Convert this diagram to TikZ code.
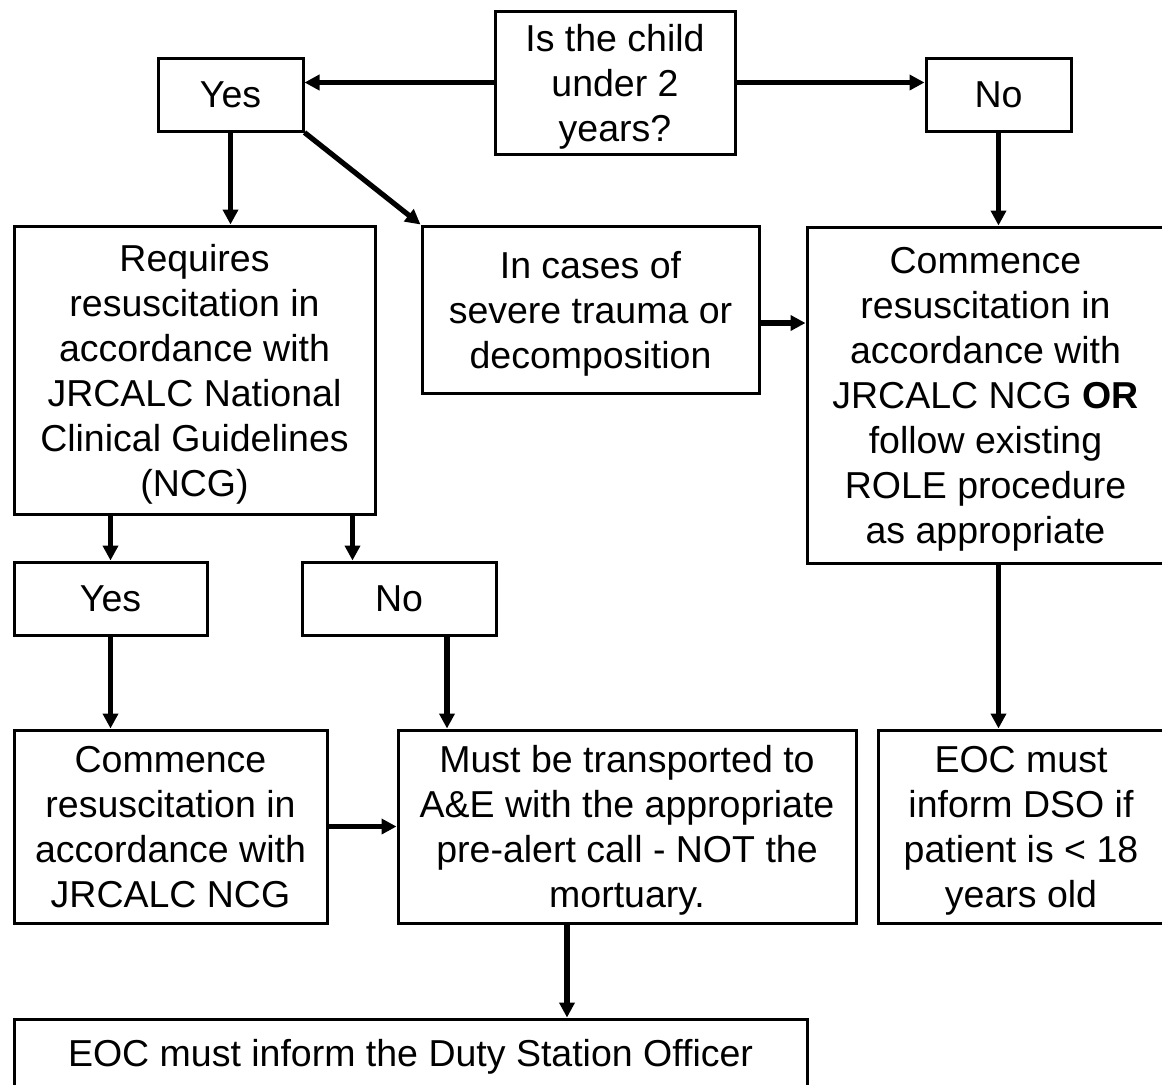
\documentclass[tikz,border=0pt]{standalone}
\usepackage{fontspec}
\setmainfont{Liberation Sans}
\usepackage{tikz}
\usetikzlibrary{positioning, calc, arrows.meta}
\tikzset{
    base/.style={
        font=\fontsize{18.75}{22.5}\selectfont,
        align=center
    },
    box/.style={
        base,
        rectangle,
        draw=black,
        line width=1.5pt,
        fill=white,
        inner sep=0pt,
        text depth=0pt
    },
    flow/.style={
        -{Triangle[length=7.5pt, width=7.5pt]},
        line width=2.6pt,
        color=black
    }
}

\begin{document}
\begin{tikzpicture}[x=0.5pt, y=-0.5pt]
    \useasboundingbox[fill=white] (0,0) rectangle (1162,1084);

    % Question and first answers
    \node[box, minimum width=120pt, minimum height=71.5pt] (q) at (615,82.5) {Is the child\\under 2\\years?};
    \node[box, minimum width=72.5pt, minimum height=36.5pt] (yes1) at (230.5,94.5) {Yes};
    \node[box, minimum width=72.5pt, minimum height=36.5pt] (no1) at (998.5,94.5) {No};

    % Second row
    \node[box, minimum width=180.5pt, minimum height=144pt] (req) at (194.5,370) {Requires\\resuscitation in\\accordance with\\JRCALC National\\Clinical Guidelines\\(NCG)};
    \node[box, minimum width=168.5pt, minimum height=83.5pt] (trauma) at (590.5,309.5) {In cases of\\severe trauma or\\decomposition};
    \node[box, minimum width=178.5pt, minimum height=168pt] (resus) at (985.5,395) {Commence\\resuscitation in\\accordance with\\JRCALC NCG \textbf{OR}\\follow existing\\ROLE procedure\\as appropriate};

    % Answers below
    \node[box, minimum width=96.5pt, minimum height=36.5pt] (yes2) at (110.5,598.5) {Yes};
    \node[box, minimum width=97pt, minimum height=36.5pt] (no2) at (399,598.5) {No};

    % Outcomes
    \node[box, minimum width=156.5pt, minimum height=96.5pt] (jrcalc) at (170.5,826.5) {Commence\\resuscitation in\\accordance with\\JRCALC NCG};
    \node[box, minimum width=229pt, minimum height=96.5pt] (ae) at (627,826.5) {Must be transported to\\A\&E with the appropriate\\pre-alert call - NOT the\\mortuary.};
    \node[box, minimum width=143pt, minimum height=96.5pt] (dso) at (1021,826.5) {EOC must\\inform DSO if\\patient is < 18\\years old};
    \node[box, minimum width=396.5pt, minimum height=34pt] (officer) at (410.5,1053) {EOC must inform the Duty Station Officer};

    % Arrows
    \draw[flow] (q.west) -- (q.west -| yes1.east);
    \draw[flow] (q.east) -- (q.east -| no1.west);
    \draw[flow] (yes1.south) -- (yes1.south |- req.north);
    \draw[flow] (yes1.south east) -- (trauma.north west);
    \draw[flow] (no1.south) -- (no1.south |- resus.north);
    \draw[flow] ([yshift=-6.75pt]trauma.east) -- ([yshift=-6.75pt]trauma.east -| resus.west);
    \draw[flow] (yes2.north |- req.south) -- (yes2.north);
    \draw[flow] ([xshift=-12pt]req.south east) -- ([xshift=-12pt]req.south east |- no2.north);
    \draw[flow] (yes2.south) -- (yes2.south |- jrcalc.north);
    \draw[flow] ([xshift=24pt]no2.south) -- ([xshift=24pt]no2.south |- ae.north);
    \draw[flow] (no1.south |- resus.south) -- (no1.south |- dso.north);
    \draw[flow] (jrcalc.east) -- (ae.west);
    \draw[flow] ([xshift=-30pt]ae.south) -- ([xshift=-30pt]ae.south |- officer.north);
\end{tikzpicture}
\end{document}
